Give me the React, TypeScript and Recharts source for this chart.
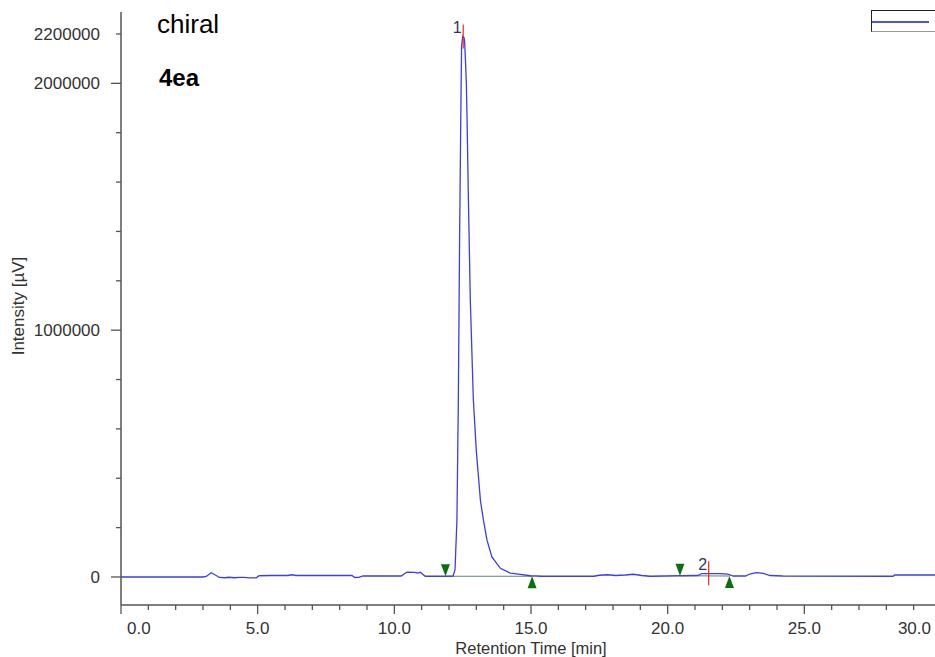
import { ComposedChart, Line, Scatter, XAxis, YAxis, ReferenceLine, Label } from "recharts";

// chromatogram trace (min / µV)
const times = [
  0, 3.0, 3.12, 3.3, 3.45, 3.6, 3.8, 3.95, 4.15, 4.35, 4.5, 4.7, 4.95, 5.05, 5.5, 6.1, 6.25, 6.4, 7.5,
  8.45, 8.55, 8.7, 8.85, 10.25, 10.46, 10.75, 10.85, 10.95, 11.13, 11.9, 12.15, 12.22, 12.29, 12.34,
  12.39, 12.43, 12.46, 12.5, 12.55, 12.57, 12.6, 12.635, 12.66, 12.71, 12.78, 12.89, 13.0, 13.15,
  13.26, 13.39, 13.57, 13.88, 14.24, 14.61, 14.97, 15.4, 17.3, 17.5, 17.8, 18.1, 18.45, 18.75, 19.05,
  19.35, 20.5, 21.1, 21.25, 21.9, 22.2, 22.4, 22.85, 23.0, 23.25, 23.5, 23.75, 24.2, 28.25, 28.3, 30,
];
const intensity = [
  0, 0, 2000, 17000, 8000, -2000, -3000, -1000, -3000, -1500, -1500, -4000, -3500, 5000, 6000, 6000,
  9000, 6000, 6000, 6000, -2000, -1500, 4000, 4000, 20000, 19000, 16000, 19000, 3000, 3000, 4000,
  30000, 230000, 700000, 1400000, 1850000, 2150000, 2190000, 2185000, 2170000, 2100000, 2000000,
  1860000, 1530000, 1120000, 720000, 510000, 310000, 230000, 149000, 81000, 35000, 16000, 11000, 5000,
  3000, 3000, 7000, 9000, 6000, 8000, 11000, 6000, 3000, 5000, 6000, 14000, 14000, 12000, 4000, 4000,
  12000, 18000, 15000, 6000, 4000, 3000, 8000, 8000,
];

// integration marks
const peakNumbers = ["1", "2"];
const peakApexTimes = [12.52, 21.5];
const peakApexHeights = [2190000, 15000];
const peakStartTimes = [11.87, 20.45];
const peakStartHeights = [3000, 5000];
const peakEndTimes = [15.04, 22.26];
const peakEndHeights = [3000, 4000];

const xTicks = [0, 1, 2, 3, 4, 5, 6, 7, 8, 9, 10, 11, 12, 13, 14, 15, 16, 17, 18, 19, 20, 21, 22, 23, 24, 25, 26, 27, 28, 29, 30];
const xLabelTicks = [0, 5, 10, 15, 20, 25, 30];
const yTicks = [0, 200000, 400000, 600000, 800000, 1000000, 1200000, 1400000, 1600000, 1800000, 2000000, 2200000];
const yLongTicks = [0, 1000000, 2000000];
const yLabelTicks = [0, 1000000, 2000000, 2200000];

const axisColor = "#555";
const textColor = "#333";
const traceColor = "#3c3cf0";
const markGreen = "#0b700b";

const chartData = times.map((t, i) => ({ t, v: intensity[i] }));
const apexData = peakNumbers.map((n, i) => ({ t: peakApexTimes[i], v: peakApexHeights[i], n }));
const startData = peakStartTimes.map((t, i) => ({ t, v: peakStartHeights[i] }));
const endData = peakEndTimes.map((t, i) => ({ t, v: peakEndHeights[i] }));

function XTick({ x, y, payload }: any) {
  const v = payload.value;
  const major = xLabelTicks.includes(v);
  let anchor = "middle";
  let tx = x;
  if (v === 0) {
    anchor = "start";
    tx = x + 6;
  } else if (v === 30) {
    anchor = "end";
    tx = x - 10;
  }
  return (
    <g>
      <line x1={x} x2={x} y1={y} y2={y + (major ? 9 : 5)} stroke={axisColor} strokeWidth={1.3} />
      {major && (
        <text x={tx} y={y + 29} textAnchor={anchor} fontSize={17} fill={textColor}>
          {v.toFixed(1)}
        </text>
      )}
    </g>
  );
}

function YTick({ x, y, payload }: any) {
  const v = payload.value;
  const long = yLongTicks.includes(v);
  return (
    <g>
      <line x1={x - (long ? 10 : 5)} x2={x} y1={y} y2={y} stroke={axisColor} strokeWidth={1.3} />
      {yLabelTicks.includes(v) && (
        <text x={x - 21} y={y} dy="0.36em" textAnchor="end" fontSize={17} fill={textColor}>
          {v}
        </text>
      )}
    </g>
  );
}

function ApexMark({ cx, cy, payload }: any) {
  return (
    <g>
      <line x1={cx} x2={cx} y1={cy - 12} y2={cy + 12} stroke="#ff2020" strokeWidth={1.2} />
      <text x={cx - 6} y={cy - 3.5} textAnchor="middle" fontSize={16} fill="#2b3a5a">
        {payload.n}
      </text>
    </g>
  );
}

function StartMark({ cx, cy }: any) {
  return <path d={`M${cx - 4.5},${cy - 12} L${cx + 4.5},${cy - 12} L${cx},${cy} Z`} fill={markGreen} />;
}

function EndMark({ cx, cy }: any) {
  return <path d={`M${cx - 4.5},${cy + 12} L${cx + 4.5},${cy + 12} L${cx},${cy} Z`} fill={markGreen} />;
}

export default function App() {
  return (
    <div
      style={{
        position: "absolute",
        left: 0,
        top: 0,
        width: 935,
        height: 657,
        overflow: "hidden",
        background: "#fff",
        fontFamily: "'Liberation Sans', Arial, sans-serif",
      }}
    >
      <ComposedChart width={946} height={657} data={chartData} margin={{ top: 12, right: 5, bottom: 0, left: 0 }}>
        <XAxis
          dataKey="t"
          type="number"
          domain={[0, 30]}
          ticks={xTicks}
          interval={0}
          allowDataOverflow
          height={52}
          tickSize={0}
          tickMargin={0}
          tickLine={false}
          tick={<XTick />}
          axisLine={{ stroke: axisColor, strokeWidth: 1.5 }}
        >
          <Label value="Retention Time [min]" position="insideBottom" offset={3} fontSize={16.5} fill={textColor} />
        </XAxis>
        <YAxis
          type="number"
          domain={[-113500, 2289000]}
          ticks={yTicks}
          interval={0}
          allowDataOverflow
          width={121}
          tickSize={0}
          tickMargin={0}
          tickLine={false}
          tick={<YTick />}
          axisLine={{ stroke: axisColor, strokeWidth: 1.5 }}
        >
          <Label
            content={() => (
              <text x={24} y={306} transform="rotate(-90 24 306)" textAnchor="middle" fontSize={17} fill={textColor}>
                Intensity [µV]
              </text>
            )}
          />
        </YAxis>
        {peakStartTimes.map((t, i) => (
          <ReferenceLine
            key={i}
            segment={[
              { x: t, y: peakStartHeights[i] },
              { x: peakEndTimes[i], y: peakEndHeights[i] },
            ]}
            stroke="#5f8575"
            strokeWidth={1.2}
          />
        ))}
        <Line
          dataKey="v"
          type="linear"
          stroke={traceColor}
          strokeWidth={1.3}
          dot={false}
          activeDot={false}
          isAnimationActive={false}
        />
        <Scatter data={startData} dataKey="v" shape={<StartMark />} isAnimationActive={false} />
        <Scatter data={endData} dataKey="v" shape={<EndMark />} isAnimationActive={false} />
        <Scatter data={apexData} dataKey="v" shape={<ApexMark />} isAnimationActive={false} />
      </ComposedChart>
      <div style={{ position: "absolute", left: 157, top: 9, fontSize: 26, color: "#000" }}>chiral</div>
      <div style={{ position: "absolute", left: 159, top: 64, fontSize: 24, fontWeight: "bold", color: "#000" }}>4ea</div>
      <div
        style={{
          position: "absolute",
          left: 871,
          top: 10,
          width: 80,
          height: 20,
          borderTop: "1.5px solid #222",
          borderLeft: "1.5px solid #222",
          borderBottom: "1.5px solid #999",
        }}
      >
        <div style={{ position: "absolute", left: 0, top: 10, width: 57, height: 1.5, background: "#5050f0" }} />
      </div>
    </div>
  );
}
